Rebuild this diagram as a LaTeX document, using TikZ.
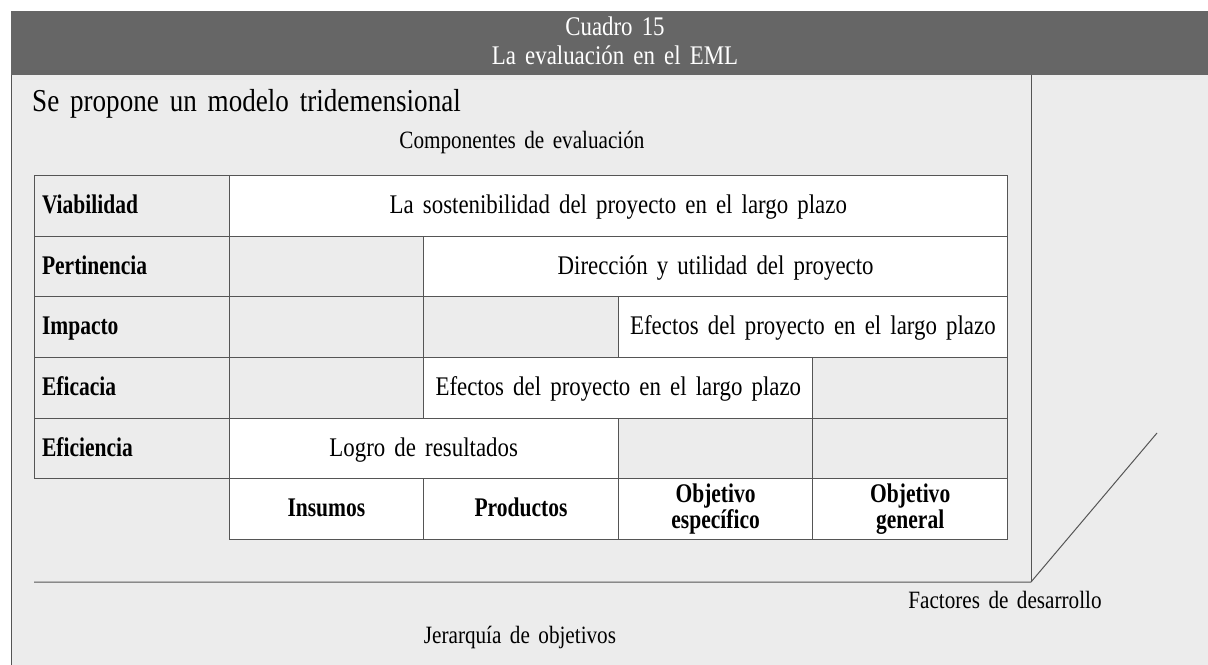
\documentclass[tikz,border=0pt]{standalone}
\usepackage{fontspec}
\setmainfont{Liberation Serif}[FakeStretch=0.85, WordSpace=1.6]
\newfontfamily\labfont{Liberation Serif}[FakeStretch=0.8]
\usepackage{tikz}

\definecolor{headgray}{RGB}{102,102,102}
\definecolor{bodygray}{RGB}{236,236,236}
\definecolor{linegray}{RGB}{85,85,85}

\begin{document}
\begin{tikzpicture}[x=1bp, y=-1bp,
    basecell/.style={draw=linegray, line width=1bp, anchor=north west, inner sep=0pt,
        minimum height=60.7bp, minimum width=194.6bp, fill=bodygray},
    cell/.style={basecell, text height=20bp, text depth=5bp,
        font=\fontsize{27}{28}\selectfont},
    txtcell/.style={cell, fill=white},
    labcell/.style={cell, align=left, text width=179.6bp, inner xsep=7.5bp,
        font=\labfont\bfseries\fontsize{27}{28}\selectfont},
    headcell/.style={txtcell, font=\labfont\bfseries\fontsize{27}{28}\selectfont},
    twoline/.style={basecell, fill=white, align=center,
        font=\labfont\bfseries\fontsize{27}{26}\selectfont},
    axislabel/.style={font=\fontsize{25}{27}\selectfont, inner sep=0pt}]
    \useasboundingbox (0,0) rectangle (1208,665);

    % Frame
    \fill[bodygray] (11,75) rectangle (1208,665);
    \fill[headgray] (11,11) rectangle (1208,75);
    \draw[linegray, line width=1bp] (11,75) -- (11,665);
    \node[align=center, text=white, font=\fontsize{27}{29}\selectfont] (title) at (615,41)
        {Cuadro 15\\La evaluación en el EML};
    \node[anchor=west, inner sep=0pt, font=\fontsize{32}{34}\selectfont] (intro) at (32,104)
        {Se propone un modelo tridemensional};
    \node[axislabel] (comp) at (522,142) {Componentes de evaluación};

    % Axes
    \coordinate (origin) at (1031,582);
    \coordinate (ytop) at (1031,75);
    \coordinate (xend) at (34,582);
    \coordinate (zend) at (1157,433);
    \draw[linegray, line width=1bp] (xend) -- (origin) -- (zend);
    \draw[linegray, line width=1bp] (ytop) -- (origin);
    \node[axislabel] (jerarq) at (520,637) {Jerarquía de objetivos};
    \node[axislabel] (factores) at (1005,600) {Factores de desarrollo};

    % Rows
    \node[labcell] (viab) at (34,175) {Viabilidad};
    \node[txtcell, minimum width=778.4bp] (viabtxt) at (228.6,175)
        {La sostenibilidad del proyecto en el largo plazo};

    \node[labcell] (pert) at (34,235.7) {Pertinencia};
    \node[cell] (pertins) at (228.6,235.7) {};
    \node[txtcell, minimum width=583.8bp] (perttxt) at (423.2,235.7)
        {Dirección y utilidad del proyecto};

    \node[labcell] (imp) at (34,296.3) {Impacto};
    \node[cell] (impins) at (228.6,296.3) {};
    \node[cell] (impprod) at (423.2,296.3) {};
    \node[txtcell, minimum width=389.2bp] (imptxt) at (617.8,296.3)
        {Efectos del proyecto en el largo plazo};

    \node[labcell] (eficac) at (34,357) {Eficacia};
    \node[cell] (eficacins) at (228.6,357) {};
    \node[txtcell, minimum width=389.2bp] (eficactxt) at (423.2,357)
        {Efectos del proyecto en el largo plazo};
    \node[cell] (eficacgen) at (812.4,357) {};

    \node[labcell] (eficien) at (34,417.7) {Eficiencia};
    \node[txtcell, minimum width=389.2bp] (eficientxt) at (228.6,417.7)
        {Logro de resultados};
    \node[cell] (eficienesp) at (617.8,417.7) {};
    \node[cell] (eficiengen) at (812.4,417.7) {};

    % Column heads
    \node[headcell] (insumos) at (228.6,478.3) {Insumos};
    \node[headcell] (productos) at (423.2,478.3) {Productos};
    \node[twoline] (objesp) at (617.8,478.3) {Objetivo\\específico};
    \node[twoline] (objgen) at (812.4,478.3) {Objetivo\\general};
\end{tikzpicture}
\end{document}
